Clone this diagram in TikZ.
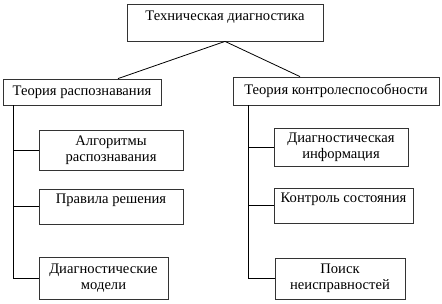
\documentclass[tikz,border=0pt]{standalone}
\usepackage{fontspec}
\setmainfont{Liberation Serif}
\usetikzlibrary{calc}

\begin{document}
\begin{tikzpicture}[
    x=1pt, y=-1pt,
    font=\fontsize{14.6}{16}\selectfont,
    box/.style={draw=black!80, line width=0.8pt, align=center, inner sep=0pt},
    link/.style={line width=0.8pt},
  ]
  \useasboundingbox (0,0) rectangle (442,304);

  % ---------------- Root and branches ----------------
  \node[box, minimum width=196pt, minimum height=37pt] (tech)  at (225,22.5) {};
  \node[anchor=north] at ([yshift=-4pt]tech.north) {Техническая диагностика};
  \node[box, minimum width=158pt, minimum height=26pt] (recog) at (82,92)  {Теория распознавания};
  \node[box, minimum width=206pt, minimum height=28pt] (ctrl)  at (336,91) {Теория контролеспособности};

  % ---------------- Left column ----------------
  \node[box, minimum width=144pt, minimum height=40pt] (la1) at (111,150)   {Алгоритмы\\распознавания};
  \node[box, minimum width=144pt, minimum height=35pt] (la2) at (111,206.5) {};
  \node[anchor=north] at ([yshift=-2pt]la2.north) {Правила решения};
  \node[box, minimum width=129pt, minimum height=42pt] (la3) at (103.5,278) {Диагностические\\модели};

  % ---------------- Right column ----------------
  \node[box, minimum width=134pt, minimum height=38pt] (ra1) at (341,147)   {Диагностическая\\информация};
  \node[box, minimum width=139pt, minimum height=35pt] (ra2) at (343.5,205.5) {};
  \node[anchor=north] at ([yshift=-2pt]ra2.north) {Контроль состояния};
  \node[box, minimum width=130pt, minimum height=41pt] (ra3) at (340,278.5) {Поиск\\неисправностей};

  % ---------------- Connections ----------------
  \draw[link] (tech.south) -- ([xshift=36pt]recog.north);
  \draw[link] (tech.south) -- ([xshift=-36pt]ctrl.north);

  \coordinate (ltrunk) at ([xshift=11pt]recog.south west);
  \coordinate (rtrunk) at ([xshift=16pt]ctrl.south west);
  \foreach \b in {la1, la2, la3} \draw[link] (ltrunk) |- (\b.west);
  \foreach \b in {ra1, ra2, ra3} \draw[link] (rtrunk) |- (\b.west);
\end{tikzpicture}
\end{document}
